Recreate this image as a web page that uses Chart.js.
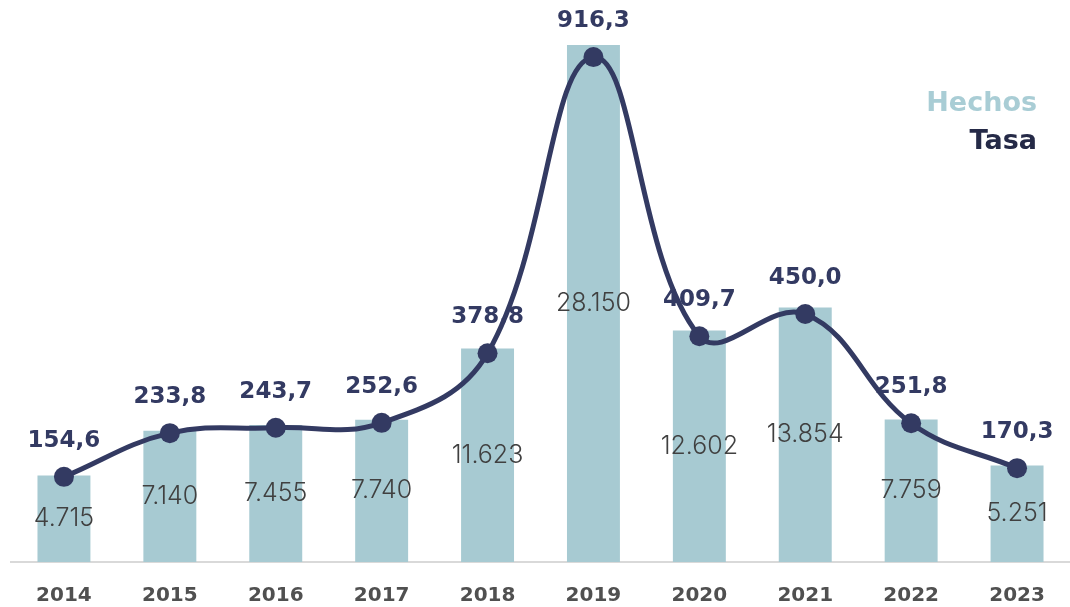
<!DOCTYPE html>
<html>
<head>
<meta charset="utf-8">
<script src="https://cdn.jsdelivr.net/npm/chart.js@4.4.1/dist/chart.umd.min.js"></script>
<style>
html,body{margin:0;padding:0;background:#fff;overflow:hidden;}
#wrap{width:1080px;height:607px;}
</style>
</head>
<body>
<div id="wrap"><canvas id="c" width="1080" height="607"></canvas></div>
<script>
const years = ['2014','2015','2016','2017','2018','2019','2020','2021','2022','2023'];
const hechos = [4715, 7140, 7455, 7740, 11623, 28150, 12602, 13854, 7759, 5251];
const tasa = [154.6, 233.8, 243.7, 252.6, 378.8, 916.3, 409.7, 450.0, 251.8, 170.3];
const seriesNames = ['Hechos', 'Tasa'];

const barColor = '#a7cad2';
const lineColor = '#333a62';
const fontFam = "'DejaVu Sans', sans-serif";

function fmtHechos(v){ return v.toLocaleString('de-DE'); }
function fmtTasa(v){ return v.toFixed(1).replace('.', ','); }

const labelPlugin = {
  id: 'labels',
  afterDatasetDraw(chart, args){
    if (args.index !== 0) return;
    const ctx = chart.ctx;
    ctx.save();
    ctx.textAlign = 'center';
    ctx.textBaseline = 'middle';
    const barMeta = chart.getDatasetMeta(0);
    ctx.font = "300 25px Inter, sans-serif";
    ctx.fillStyle = '#404040';
    barMeta.data.forEach((el, i) => {
      const y = (el.y + el.base) / 2;
      ctx.fillText(fmtHechos(hechos[i]), el.x, y);
    });
    const lineMeta = chart.getDatasetMeta(1);
    ctx.font = "bold 23px " + fontFam;
    ctx.fillStyle = lineColor;
    lineMeta.data.forEach((el, i) => {
      ctx.fillText(fmtTasa(tasa[i]), el.x, el.y - 36);
    });
    ctx.restore();
  },
  afterDraw(chart){
    const ctx = chart.ctx;
    ctx.save();
    ctx.textAlign = 'right';
    ctx.textBaseline = 'middle';
    ctx.font = "bold 27px " + fontFam;
    ctx.fillStyle = '#a9cdd5';
    ctx.fillText(seriesNames[0], 1037, 104);
    ctx.fillStyle = '#252a47';
    ctx.fillText(seriesNames[1], 1037, 142);
    ctx.restore();
  }
};

new Chart(document.getElementById('c'), {
  data: {
    labels: years,
    datasets: [
      {
        type: 'bar', label: seriesNames[0], data: hechos, yAxisID: 'yBar',
        backgroundColor: barColor, barPercentage: 0.5, categoryPercentage: 1.0, order: 1
      },
      {
        type: 'line', label: seriesNames[1], data: tasa, yAxisID: 'yLine',
        borderColor: lineColor, backgroundColor: lineColor, borderWidth: 5,
        tension: 0.4, pointRadius: 10, pointBackgroundColor: lineColor, pointBorderWidth: 0,
        order: 0, clip: false
      }
    ]
  },
  options: {
    responsive: false,
    animation: false,
    layout: { padding: { left: 11, right: 2, top: 11, bottom: 0 } },
    plugins: { legend: { display: false }, tooltip: { enabled: false } },
    scales: {
      x: {
        grid: { display: false, drawTicks: false },
        border: { display: true, color: '#d9d9d9', width: 2 },
        ticks: { color: '#505050', padding: 22, maxRotation: 0, font: { family: fontFam, size: 20, weight: 'bold' } },
        afterFit(scale){ scale.height = 45; }
      },
      yBar: { display: false, min: 0, max: 30000 },
      yLine: { display: false, min: 0, max: 1000 }
    }
  },
  plugins: [labelPlugin]
});
</script>
</body>
</html>
